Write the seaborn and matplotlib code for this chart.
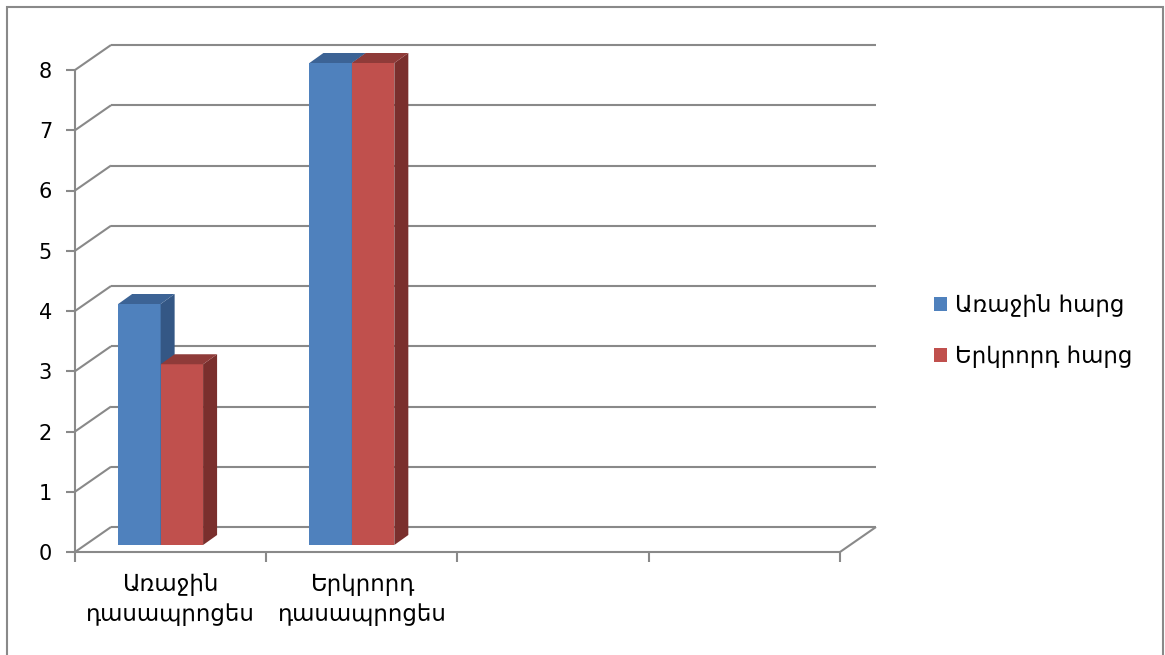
import matplotlib
matplotlib.use("Agg")
import matplotlib.pyplot as plt
from matplotlib import transforms
from matplotlib.patches import Polygon, Rectangle
import pandas as pd
import seaborn as sns

# ---- data -------------------------------------------------------------
categories = ["Առաջին\nդասապրոցես", "Երկրորդ\nդասապրոցես", "", " "]
series_names = ["Առաջին հարց", "Երկրորդ հարց"]
first_question = [4, 8]
second_question = [3, 8]
y_ticks = [0, 1, 2, 3, 4, 5, 6, 7, 8]

# ---- style ------------------------------------------------------------
sns.set_style("white")
plt.rcParams["font.family"] = ["DejaVu Sans"]
plt.rcParams["text.color"] = "black"
plt.rcParams["xtick.labelcolor"] = "black"
plt.rcParams["ytick.labelcolor"] = "black"

front_colors = ["#4F81BD", "#C0504D"]
top_colors = ["#3C6395", "#8F3B39"]
side_colors = ["#345785", "#7A2F2D"]
grid_color = "#898989"

W, H = 1165, 655
fig = plt.figure(figsize=(W / 100, H / 100), dpi=100)
fig.patch.set_facecolor("white")

# front plane of the chart in pixels
x0_px, x1_px = 75, 840
y0_px, y8_px = 552, 70
ax = fig.add_axes([x0_px / W, 1 - y0_px / H, (x1_px - x0_px) / W, (y0_px - y8_px) / H])

rows = []
for cat, a, b in zip(categories[:2], first_question, second_question):
    rows.append({"class": cat, "question": series_names[0], "value": a})
    rows.append({"class": cat, "question": series_names[1], "value": b})
df = pd.DataFrame(rows)

sns.barplot(data=df, x="class", y="value", hue="question", order=categories,
            hue_order=series_names, palette=front_colors, saturation=1,
            width=0.444, dodge=True, errorbar=None, legend=False,
            linewidth=0, ax=ax, zorder=3)

ax.set_xlim(-0.5, len(categories) - 0.5)
ax.set_ylim(0, 8)
for s in ax.spines.values():
    s.set_visible(False)
ax.set_xlabel("")
ax.set_ylabel("")

px_x = (x1_px - x0_px) / (len(categories))   # pixels per category
px_y = (y0_px - y8_px) / 8.0                  # pixels per unit

# back wall depth and bar depth, expressed in data units
back_dx, back_dy = 36 / px_x, 25 / px_y
bar_dx, bar_dy = 14 / px_x, 10 / px_y

xl, xr = -0.5, len(categories) - 0.5
line_kw = dict(color=grid_color, lw=1.5, clip_on=False, zorder=1,
               solid_capstyle="butt")
for v in y_ticks:
    ax.plot([xl + back_dx, xr + back_dx], [v + back_dy, v + back_dy], **line_kw)
    ax.plot([xl, xl + back_dx], [v, v + back_dy], **line_kw)
ax.plot([xr, xr + back_dx], [0, back_dy], **line_kw)
ax.plot([xl, xr], [0, 0], **line_kw)
ax.plot([xl, xl], [0, 8], **line_kw)

# bars sit slightly inside the box
bar_tr = transforms.offset_copy(ax.transData, fig=fig, x=-10, y=7, units="dots")
bars = list(ax.patches)
for p in bars:
    p.set_transform(bar_tr)
    p.set_clip_on(False)
for i, p in enumerate(bars):
    h = p.get_height()
    if not h or h != h:
        continue
    s = 0 if p.get_facecolor()[0] < 0.5 else 1
    x = p.get_x()
    w = p.get_width()
    z = 3 + i * 0.01 + (0 if s == 0 else 0.5)
    p.set_zorder(z)
    side = Polygon([(x + w, 0), (x + w + bar_dx, bar_dy), (x + w + bar_dx, h + bar_dy), (x + w, h)],
                   closed=True, facecolor=side_colors[s], edgecolor="none",
                   transform=bar_tr, clip_on=False, zorder=z)
    top = Polygon([(x, h), (x + bar_dx, h + bar_dy), (x + w + bar_dx, h + bar_dy), (x + w, h)],
                  closed=True, facecolor=top_colors[s], edgecolor="none",
                  transform=bar_tr, clip_on=False, zorder=z)
    ax.add_patch(side)
    ax.add_patch(top)

# ticks
ax.set_yticks(y_ticks)
ax.set_yticklabels([str(t) for t in y_ticks], fontsize=15)
ax.tick_params(axis="y", left=True, length=6.5, width=1.5, color=grid_color, pad=10)
ax.set_xticks(range(len(categories)))
ax.set_xticklabels(categories, fontsize=16.5, linespacing=1.4)
ax.tick_params(axis="x", which="major", length=0, pad=15)
ax.set_xticks([xl + k for k in range(len(categories) + 1)], minor=True)
ax.tick_params(axis="x", which="minor", bottom=True, length=7.5, width=1.5, color=grid_color)
ax.grid(False)

# legend
handles = [Rectangle((0, 0), 1, 1, facecolor=c, edgecolor="none") for c in front_colors]
fig.legend(handles, series_names, loc="center left",
           bbox_to_anchor=(934 / W, 1 - 331 / H), frameon=False, fontsize=16.5,
           handlelength=0.55, handleheight=0.55, handletextpad=0.35,
           labelspacing=1.2, borderpad=0, borderaxespad=0)

# outer frame
fig.patches.append(Rectangle((7 / W, -0.05), (1163 - 7) / W, 1.05 - 7 / H,
                             transform=fig.transFigure, fill=False,
                             edgecolor=grid_color, lw=1.5, zorder=0))

fig.savefig("out.png", dpi=100, facecolor="white")
